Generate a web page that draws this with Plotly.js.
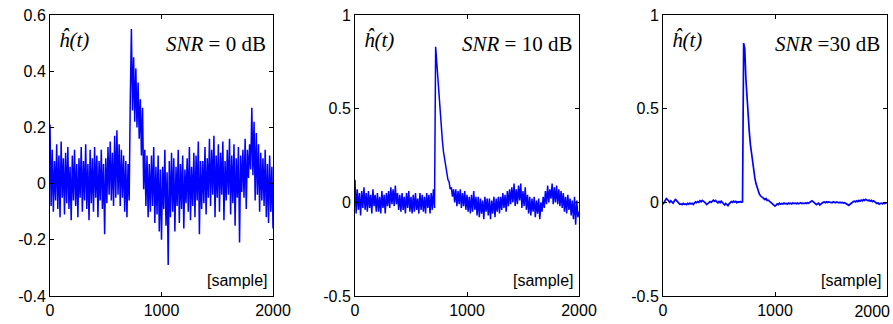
<!DOCTYPE html>
<html>
<head>
<meta charset="utf-8">
<script src="https://cdn.plot.ly/plotly-3.0.1.min.js"></script>
<style>
html,body{margin:0;padding:0;background:#fff;}
#chart{width:893px;height:324px;}
</style>
</head>
<body>
<div id="chart"></div>
<script>
// sample spacing of the read-off values (samples)
const sampleStep = 10;

// SNR = 0 dB estimate, values at samples 0,10,...,2000
const h0dB = [
  0.21, -0.08, 0.12, -0.10, 0.08, -0.06, 0.14, -0.09, 0.10, -0.12,
  0.15, -0.05, 0.09, -0.11, 0.11, -0.07, 0.13, -0.09, 0.06, -0.13,
  0.10, -0.06, 0.12, -0.08, 0.07, -0.12, 0.09, -0.05, 0.13, -0.10,
  0.08, -0.06, 0.14, -0.09, 0.07, -0.13, 0.12, -0.07, 0.09, -0.10,
  0.13, -0.05, 0.10, -0.12, 0.08, -0.06, 0.12, -0.09, 0.07, -0.18,
  0.09, -0.07, 0.13, -0.04, 0.15, -0.06, 0.11, -0.08, 0.17, -0.05,
  0.19, -0.04, 0.14, -0.08, 0.12, -0.05, 0.10, -0.10, 0.08, -0.12,
  0.07, -0.06, 0.30, 0.55, 0.26, 0.45, 0.22, 0.41, 0.20, 0.36,
  0.16, 0.30, 0.10, 0.27, -0.02, 0.12, -0.08, 0.10, -0.12, 0.07,
  -0.10, 0.10, -0.08, 0.13, -0.14, 0.06, -0.11, 0.10, -0.17, 0.05,
  -0.20, 0.06, -0.09, 0.12, -0.15, 0.04, -0.29, 0.08, -0.12, 0.11,
  -0.10, 0.09, -0.17, 0.06, -0.08, 0.12, -0.14, 0.07, -0.09, 0.10,
  -0.16, 0.05, -0.07, 0.09, -0.10, 0.13, -0.13, 0.06, -0.08, 0.11,
  -0.12, 0.10, -0.06, 0.15, -0.18, 0.08, -0.09, 0.08, -0.07, 0.13,
  -0.11, 0.09, -0.05, 0.16, -0.08, 0.12, -0.04, 0.17, -0.12, 0.10,
  -0.05, 0.14, -0.10, 0.11, -0.04, 0.15, -0.13, 0.08, -0.06, 0.12,
  -0.04, 0.16, -0.11, 0.10, -0.07, 0.14, -0.15, 0.09, -0.05, 0.13,
  -0.21, 0.10, -0.03, 0.12, -0.05, 0.16, -0.09, 0.12, 0.02, 0.14,
  0.05, 0.27, 0.03, 0.22, -0.06, 0.18, -0.04, 0.14, -0.10, 0.11,
  -0.06, 0.09, -0.08, 0.12, -0.12, 0.07, -0.14, 0.10, -0.10, 0.06,
  -0.16
];

// SNR = 10 dB estimate
const h10dB = [
  0.12, -0.06, 0.07, -0.04, 0.05, -0.07, 0.06, -0.03, 0.08, -0.04,
  0.05, -0.05, 0.06, -0.03, 0.04, -0.06, 0.07, -0.02, 0.04, -0.05,
  0.05, -0.05, 0.03, -0.06, 0.06, -0.03, 0.04, -0.06, 0.05, -0.02,
  0.06, -0.03, 0.08, -0.01, 0.07, -0.02, 0.09, -0.01, 0.05, -0.04,
  0.04, -0.05, 0.05, -0.04, 0.03, -0.06, 0.05, -0.03, 0.06, -0.05,
  0.03, -0.06, 0.04, -0.05, 0.05, -0.04, 0.02, -0.06, 0.05, -0.04,
  0.04, -0.05, 0.03, -0.06, 0.05, -0.03, 0.04, -0.06, 0.05, -0.04,
  0.07, -0.03, 0.83, 0.74, 0.66, 0.55, 0.47, 0.38, 0.33, 0.27,
  0.23, 0.19, 0.16, 0.12, 0.11, 0.07, 0.08, 0.03, 0.07, 0.00,
  0.07, -0.02, 0.06, -0.01, 0.07, -0.03, 0.05, -0.02, 0.06, -0.04,
  0.04, -0.05, 0.03, -0.06, 0.04, -0.05, 0.06, -0.04, 0.03, -0.07,
  0.03, -0.08, 0.02, -0.06, 0.01, -0.09, 0.03, -0.05, 0.02, -0.07,
  0.02, -0.09, 0.01, -0.06, 0.03, -0.08, 0.02, -0.05, 0.03, -0.06,
  0.03, -0.04, 0.05, -0.03, 0.04, -0.05, 0.06, -0.02, 0.07, -0.01,
  0.08, 0.00, 0.10, -0.02, 0.07, -0.01, 0.09, 0.01, 0.10, -0.03,
  0.06, -0.02, 0.08, -0.04, 0.04, -0.06, 0.03, -0.07, 0.02, -0.05,
  0.03, -0.08, 0.01, -0.06, 0.02, -0.09, 0.00, -0.05, 0.03, -0.03,
  0.06, -0.01, 0.09, 0.00, 0.07, 0.02, 0.10, -0.01, 0.08, 0.00,
  0.09, -0.01, 0.07, -0.02, 0.06, -0.03, 0.05, -0.05, 0.03, -0.06,
  0.04, -0.04, 0.02, -0.07, 0.01, -0.09, 0.03, -0.12, 0.01, -0.08,
  -0.05
];

// SNR = 30 dB estimate
const h30dB = [
  -0.010, 0.000, 0.012, 0.020, 0.015, 0.005, 0.000, 0.008, 0.003, -0.004,
  0.006, 0.015, 0.010, 0.002, -0.006, -0.010, -0.008, -0.012, -0.006, -0.010,
  -0.008, -0.012, -0.006, -0.010, -0.004, -0.009, -0.005, -0.011, -0.004, 0.002,
  -0.002, 0.004, 0.000, 0.008, 0.003, 0.010, 0.006, 0.002, -0.004, -0.012,
  -0.006, -0.002, 0.004, 0.000, 0.008, 0.012, 0.006, 0.010, 0.002, -0.003,
  0.004, -0.002, 0.006, 0.000, -0.008, -0.014, -0.006, -0.010, -0.018, -0.008,
  -0.002, 0.004, 0.000, 0.006, 0.002, 0.005, -0.002, 0.003, 0.000, 0.004,
  0.000, 0.002, 0.850, 0.820, 0.660, 0.550, 0.450, 0.380, 0.310, 0.260,
  0.210, 0.170, 0.130, 0.100, 0.080, 0.060, 0.045, 0.035, 0.030, 0.025,
  0.020, 0.015, 0.020, 0.010, 0.012, 0.006, 0.002, -0.006, -0.012, -0.018,
  -0.020, -0.015, -0.008, -0.012, -0.005, -0.010, -0.006, -0.009, -0.004, -0.008,
  -0.006, -0.010, -0.004, -0.008, -0.005, -0.009, -0.003, -0.007, -0.005, -0.008,
  -0.004, -0.008, -0.005, -0.002, -0.006, -0.004, -0.007, -0.003, -0.006, -0.002,
  -0.005, 0.000, 0.004, 0.008, 0.004, 0.000, -0.006, -0.012, -0.008, -0.004,
  -0.014, -0.008, -0.004, 0.000, 0.002, -0.002, 0.003, -0.001, 0.002, 0.000,
  0.002, -0.002, 0.003, 0.000, -0.002, 0.002, 0.000, -0.003, 0.001, -0.002,
  0.000, -0.004, -0.002, -0.006, -0.010, -0.014, -0.016, -0.010, -0.004, 0.000,
  0.004, 0.006, 0.002, 0.008, 0.004, 0.010, 0.006, 0.012, 0.008, 0.014,
  0.010, 0.016, 0.012, 0.008, 0.012, 0.006, 0.010, 0.004, 0.008, 0.002,
  -0.002, -0.006, -0.003, -0.010, -0.006, -0.004, -0.008, -0.003, -0.006, -0.002,
  -0.004
];

const xTickVals = [0, 1000, 2000];
const xTickText = ["0", "1000", "2000"];
const y1TickVals = [-0.4, -0.2, 0, 0.2, 0.4, 0.6];
const y1TickText = ["-0.4", "-0.2", "0", "0.2", "0.4", "0.6"];
const y23TickVals = [-0.5, 0, 0.5, 1];
const y23TickText = ["-0.5", "0", "0.5", "1"];
const snrLabels = ["<i>SNR</i> = 0 dB", "<i>SNR</i> = 10 dB", "<i>SNR</i> =30 dB"];

const W = 893, H = 324;
const px = (a, b) => [a / W, b / W];
const py = (top, bottom) => [(H - bottom) / H, (H - top) / H];

const sampleIdx = arr => arr.map((_, i) => i * sampleStep);

const lineBlue = '#0000ff';
const traces = [
  {x: sampleIdx(h0dB), y: h0dB, xaxis: 'x', yaxis: 'y', type: 'scatter', mode: 'lines',
   line: {color: lineBlue, width: 1.5}, hoverinfo: 'skip'},
  {x: sampleIdx(h10dB), y: h10dB, xaxis: 'x2', yaxis: 'y2', type: 'scatter', mode: 'lines',
   line: {color: lineBlue, width: 1.5}, hoverinfo: 'skip'},
  {x: sampleIdx(h30dB), y: h30dB, xaxis: 'x3', yaxis: 'y3', type: 'scatter', mode: 'lines',
   line: {color: lineBlue, width: 1.7}, hoverinfo: 'skip'},
  // empty carrier so the last panel's right-end label axis is drawn
  {x: [], y: [], xaxis: 'x4', yaxis: 'y3', type: 'scatter', mode: 'lines', hoverinfo: 'skip'}
];

const tickFont = {family: 'Liberation Sans, Arial, sans-serif', size: 16, color: '#000'};
function xa(domain, anchor, tv, tt) {
  return {domain: domain, anchor: anchor, range: [0, 2000], tickvals: tv, ticktext: tt,
    ticks: 'inside', ticklen: 4, tickcolor: '#000', showline: true, linecolor: '#000', linewidth: 1,
    mirror: 'ticks', showgrid: false, zeroline: false, tickfont: tickFont, fixedrange: true,
    ticklabeloverflow: 'allow'};
}
function ya(domain, anchor, range, tv, tt) {
  return {domain: domain, anchor: anchor, range: range, tickvals: tv, ticktext: tt,
    ticks: 'inside', ticklen: 4, tickcolor: '#000', showline: true, linecolor: '#000', linewidth: 1,
    mirror: 'ticks', showgrid: false, zeroline: false, tickfont: tickFont, fixedrange: true,
    ticklabeloverflow: 'allow'};
}

const yDom = py(15, 296);
const layout = {
  width: W, height: H, margin: {l: 0, r: 0, t: 0, b: 0},
  paper_bgcolor: '#fff', plot_bgcolor: '#fff', showlegend: false,
  xaxis: xa(px(50, 273), 'y', xTickVals, xTickText),
  yaxis: ya(yDom, 'x', [-0.4, 0.6], y1TickVals, y1TickText),
  xaxis2: xa(px(355, 579), 'y2', xTickVals, xTickText),
  yaxis2: ya(yDom, 'x2', [-0.5, 1], y23TickVals, y23TickText),
  xaxis3: xa(px(663, 887), 'y3', xTickVals.slice(0, 2), xTickText.slice(0, 2)),
  yaxis3: ya(yDom, 'x3', [-0.5, 1], y23TickVals, y23TickText),
  xaxis4: {overlaying: 'x3', anchor: 'y3', side: 'bottom', range: [0, 2000],
    tickvals: xTickVals.slice(2), ticktext: xTickText.slice(2), ticks: '', showline: false,
    showgrid: false, zeroline: false, tickfont: tickFont, fixedrange: true,
    ticklabelposition: 'outside left', ticklabeloverflow: 'allow',
    ticklabelstandoff: 4, ticklabelshift: 3},
  annotations: []
};

const panelLeft = [50, 355, 663];
const panelRight = [273, 579, 887];
const serif = 'Liberation Serif, Times New Roman, serif';
for (let i = 0; i < 3; i++) {
  layout.annotations.push({xref: 'paper', yref: 'paper', x: (panelLeft[i] + 7) / W, y: (H - 40) / H,
    xanchor: 'left', yanchor: 'middle', text: '<i>\u0125(t)</i>', showarrow: false,
    font: {family: serif, size: 21, color: '#000'}});
  layout.annotations.push({xref: 'paper', yref: 'paper', x: (panelRight[i] - 5) / W, y: (H - 44) / H,
    xanchor: 'right', yanchor: 'middle', text: snrLabels[i], showarrow: false,
    font: {family: serif, size: 21, color: '#000'}});
  layout.annotations.push({xref: 'paper', yref: 'paper', x: (panelRight[i] - 4) / W, y: (H - 280) / H,
    xanchor: 'right', yanchor: 'middle', text: '[sample]', showarrow: false,
    font: {family: 'Liberation Sans, Arial, sans-serif', size: 16, color: '#000'}});
}

Plotly.newPlot('chart', traces, layout, {displayModeBar: false, staticPlot: true});
</script>
</body>
</html>
